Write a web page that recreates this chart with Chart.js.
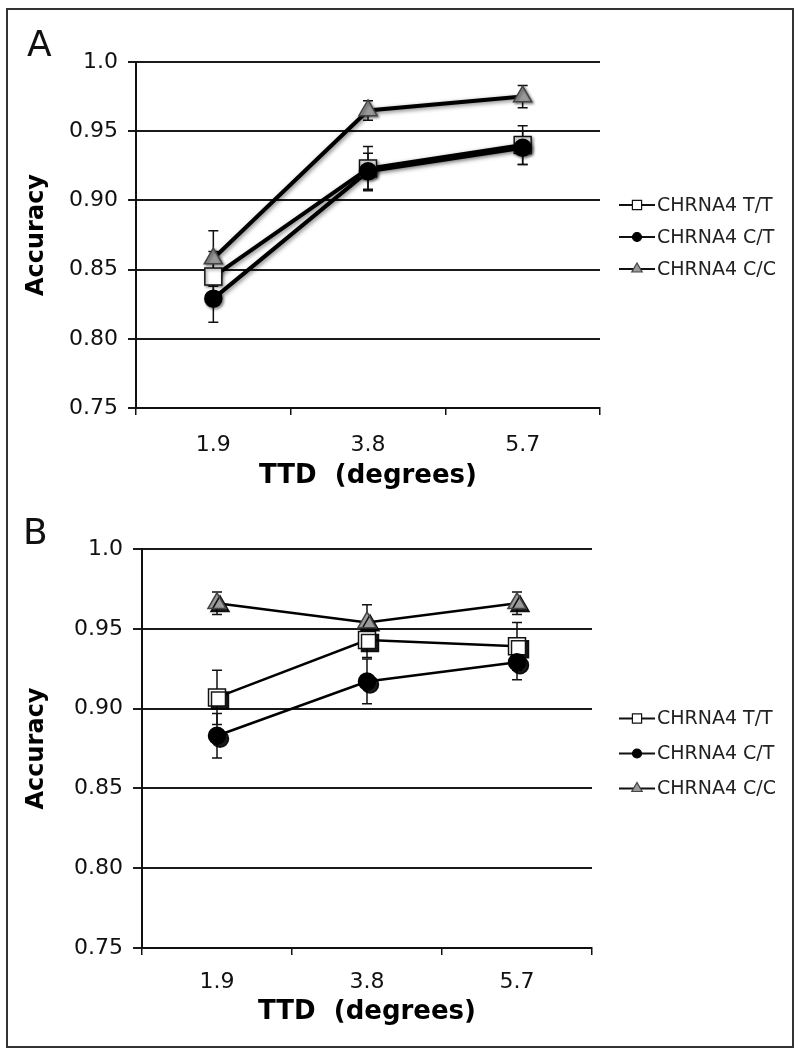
<!DOCTYPE html>
<html>
<head>
<meta charset="utf-8">
<script src="https://cdn.jsdelivr.net/npm/chart.js@4"></script>
<style>
  body { margin: 0; background: #fff; }
  #wrap { position: relative; width: 799px; height: 1050px; overflow: hidden; }
  #frame { position: absolute; left: 6px; top: 8px; width: 788px; height: 1040px; border: 2px solid #333; box-sizing: border-box; }
  canvas { position: absolute; left: 0; }
  .panel { position: absolute; font-family: 'DejaVu Sans', Verdana, sans-serif; font-size: 36px; line-height: 1; color: #111; }
</style>
</head>
<body>
<div id="wrap">
  <div id="frame"></div>
  <canvas id="chartA" width="799" height="500" style="top:0"></canvas>
  <canvas id="chartB" width="799" height="560" style="top:490px"></canvas>
  <div class="panel" style="left:27px;top:26px">A</div>
  <div class="panel" style="left:23px;top:514px">B</div>
</div>
<script>
// values
const ttdLabels = ['1.9', '3.8', '5.7'];
const seriesNames = ['CHRNA4 T/T', 'CHRNA4 C/T', 'CHRNA4 C/C'];

const accA_TT = [0.845, 0.923, 0.940];
const accA_CT = [0.829, 0.921, 0.938];
const accA_CC = [0.858, 0.965, 0.975];
const errA_TT = [0.018, 0.016, 0.014];
const errA_CT = [0.017, 0.013, 0.012];
const errA_CC = [0.020, 0.007, 0.008];

const accB_TT = [0.907, 0.943, 0.939];
const accB_CT = [0.883, 0.917, 0.929];
const accB_CC = [0.966, 0.954, 0.966];
const errB_TT = [0.017, 0.011, 0.015];
const errB_CT = [0.014, 0.014, 0.011];
const errB_CC = [0.007, 0.011, 0.007];

const yMin = 0.75, yMax = 1.0, yStep = 0.05;

const FONT = "'DejaVu Sans', Verdana, sans-serif";

// marker looks per genotype
const markerStyles = [
  { pointStyle: 'rect', bg: '#fff', border: '#111', radius: 12, legendRadius: 6.5 },
  { pointStyle: 'circle', bg: '#000', border: '#000', radius: 8.5, legendRadius: 4.5 },
  { pointStyle: 'triangle', bg: '#9a9a9a', border: '#444', radius: 10.5, legendRadius: 6 }
];

// error bars under the markers
const errorBars = {
  id: 'errorBars',
  beforeDatasetsDraw(chart) {
    const { ctx, scales: { x, y } } = chart;
    ctx.save();
    ctx.strokeStyle = '#111';
    ctx.lineWidth = 1.5;
    chart.data.datasets.forEach(ds => {
      if (!ds.errors) return;
      ds.data.forEach((v, i) => {
        const px = x.getPixelForValue(i);
        const top = y.getPixelForValue(v + ds.errors[i]);
        const bot = y.getPixelForValue(v - ds.errors[i]);
        ctx.beginPath();
        ctx.moveTo(px, top); ctx.lineTo(px, bot);
        ctx.moveTo(px - 5, top); ctx.lineTo(px + 5, top);
        ctx.moveTo(px - 5, bot); ctx.lineTo(px + 5, bot);
        ctx.stroke();
      });
    });
    ctx.restore();
  }
};

// excel-ish drop shadows
const shadows = {
  id: 'shadows',
  beforeDatasetDraw(chart, args) {
    const s = chart.data.datasets[args.index].shadow;
    if (!s) return;
    const ctx = chart.ctx;
    ctx.save();
    ctx.shadowColor = s.color;
    ctx.shadowBlur = s.blur;
    ctx.shadowOffsetX = s.dx;
    ctx.shadowOffsetY = s.dy;
  },
  afterDatasetDraw(chart, args) {
    if (chart.data.datasets[args.index].shadow) chart.ctx.restore();
  }
};

// legend drawn as  -marker-  label
const sideLegend = {
  id: 'sideLegend',
  afterDraw(chart, args, opts) {
    const { ctx, chartArea } = chart;
    const cy = (chartArea.top + chartArea.bottom) / 2 + opts.dy;
    ctx.save();
    seriesNames.forEach((name, i) => {
      const yy = cy + (i - 1) * opts.gap;
      const x0 = opts.x;
      const m = markerStyles[i];
      ctx.strokeStyle = '#111';
      ctx.lineWidth = 2;
      ctx.beginPath();
      ctx.moveTo(x0, yy); ctx.lineTo(x0 + 36, yy);
      ctx.stroke();
      ctx.fillStyle = m.bg;
      ctx.strokeStyle = m.border;
      ctx.lineWidth = 1.2;
      Chart.helpers.drawPoint(ctx, { pointStyle: m.pointStyle, radius: m.legendRadius, rotation: 0, borderWidth: 1.2 }, x0 + 18, yy);
      ctx.fillStyle = '#222';
      ctx.font = '19px ' + FONT;
      ctx.textBaseline = 'middle';
      ctx.textAlign = 'left';
      ctx.fillText(name, x0 + 38, yy + 1);
    });
    ctx.restore();
  }
};

function makePanel(id, series, errs, look) {
  const datasets = [];
  series.forEach((vals, i) => {
    // connecting line
    datasets.push({
      data: vals,
      borderColor: '#000',
      borderWidth: look.lineWidth,
      pointRadius: 0,
      fill: false,
      tension: 0,
      order: 10 + (2 - i),
      shadow: look.lineShadow
    });
  });
  series.forEach((vals, i) => {
    const m = markerStyles[i];
    datasets.push({
      data: vals,
      errors: errs[i],
      showLine: false,
      pointStyle: m.pointStyle,
      pointRadius: m.radius,
      pointBackgroundColor: m.bg,
      pointBorderColor: m.border,
      pointBorderWidth: 1.5,
      order: 2 - i,
      shadow: look.markerShadow
    });
  });

  return new Chart(document.getElementById(id), {
    type: 'line',
    data: { labels: ttdLabels, datasets },
    options: {
      responsive: false,
      animation: false,
      layout: { padding: look.padding },
      plugins: {
        legend: { display: false },
        tooltip: { enabled: false },
        sideLegend: { x: 619, gap: look.legendGap, dy: look.legendDy }
      },
      scales: {
        x: {
          type: 'category',
          offset: true,
          grid: { offset: true, drawOnChartArea: false, drawTicks: true, tickLength: 7, color: '#111', lineWidth: 1.5 },
          border: { color: '#111', width: 2 },
          ticks: { font: { family: FONT, size: 22 }, color: '#111', padding: look.xTickPad },
          title: { display: true, text: 'TTD  (degrees)', color: '#000', padding: 0, font: { family: FONT, size: 26, weight: 'bold' } },
          afterFit: s => { s.height = look.xHeight; }
        },
        y: {
          min: yMin,
          max: yMax,
          ticks: {
            stepSize: yStep,
            padding: 10,
            color: '#111',
            font: { family: FONT, size: 22 },
            callback: v => Math.abs(v - 1) < 1e-9 ? '1.0' : v.toFixed(2)
          },
          grid: { color: '#1a1a1a', lineWidth: 2, tickLength: look.yTick },
          border: { color: '#111', width: 2 },
          title: { display: true, text: 'Accuracy', color: '#000', padding: { top: 22 }, font: { family: FONT, size: 24, weight: 'bold' } },
          afterFit: s => { s.width = look.yWidth; }
        }
      }
    },
    plugins: [errorBars, shadows, sideLegend]
  });
}

makePanel('chartA', [accA_TT, accA_CT, accA_CC], [errA_TT, errA_CT, errA_CC], {
  lineWidth: 4,
  lineShadow: { color: 'rgba(0,0,0,0.5)', blur: 4, dx: 1.5, dy: 1.5 },
  markerShadow: { color: 'rgba(0,0,0,0.45)', blur: 3, dx: 1.5, dy: 1.5 },
  padding: { left: 0, top: 62, right: 199, bottom: 8.4 },
  xHeight: 83.6,
  xTickPad: 17,
  yTick: 8,
  yWidth: 136,
  legendGap: 32,
  legendDy: 2
});

makePanel('chartB', [accB_TT, accB_CT, accB_CC], [errB_TT, errB_CT, errB_CC], {
  lineWidth: 2.5,
  lineShadow: null,
  markerShadow: { color: 'rgba(0,0,0,0.9)', blur: 0, dx: 3, dy: 3 },
  padding: { left: 0, top: 59, right: 207, bottom: 21.9 },
  xHeight: 80.1,
  xTickPad: 14,
  yTick: 9,
  yWidth: 142,
  legendGap: 35,
  legendDy: 5
});
</script>
</body>
</html>
